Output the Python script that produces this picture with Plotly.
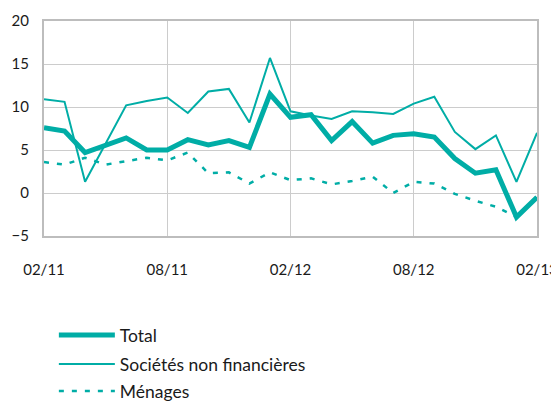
import plotly.graph_objects as go

months = ["02/11", "03/11", "04/11", "05/11", "06/11", "07/11", "08/11", "09/11", "10/11",
          "11/11", "12/11", "01/12", "02/12", "03/12", "04/12", "05/12", "06/12", "07/12",
          "08/12", "09/12", "10/12", "11/12", "12/12", "01/13", "02/13"]
tick_labels = ["02/11", "08/11", "02/12", "08/12", "02/13"]

total = [7.6, 7.2, 4.7, 5.5, 6.4, 5.0, 5.0, 6.2, 5.6, 6.1, 5.3, 11.5, 8.8, 9.1, 6.1, 8.3,
         5.8, 6.7, 6.9, 6.5, 4.0, 2.3, 2.7, -2.8, -0.5]
societes = [10.9, 10.6, 1.3, 5.8, 10.2, 10.7, 11.1, 9.3, 11.8, 12.1, 8.2, 15.7, 9.5, 9.0,
            8.6, 9.5, 9.4, 9.2, 10.4, 11.2, 7.1, 5.1, 6.7, 1.3, 7.0]
menages = [3.6, 3.3, 4.1, 3.3, 3.7, 4.1, 3.8, 4.7, 2.3, 2.4, 1.1, 2.4, 1.5, 1.7, 1.0, 1.4,
           1.9, 0.0, 1.3, 1.1, -0.1, -0.9, -1.6, -2.8, -0.5]

teal = "#00ADA6"
font = dict(family="Lato, 'Open Sans', sans-serif", size=15, color="#1a1a1a")
H = 393

fig = go.Figure()
fig.add_trace(go.Scatter(x=months, y=menages, name="Ménages", mode="lines", legend="legend3",
                         line=dict(color=teal, width=2.5, dash="5px,8px")))
fig.add_trace(go.Scatter(x=months, y=societes, name="Sociétés non financières", mode="lines",
                         legend="legend2", line=dict(color=teal, width=2)))
fig.add_trace(go.Scatter(x=months, y=total, name="Total", mode="lines", legend="legend",
                         line=dict(color=teal, width=5)))


def leg(center_px):
    return dict(x=0.02, y=1 - center_px / H, xref="paper", yref="container",
                xanchor="left", yanchor="middle", font=dict(size=17.5),
                itemwidth=56, bgcolor="rgba(0,0,0,0)")


fig.update_layout(
    width=551, height=H,
    margin=dict(l=36, r=22, t=13, b=H - 228, autoexpand=False),
    paper_bgcolor="white", plot_bgcolor="white",
    font=font,
    showlegend=True,
    legend=leg(327), legend2=leg(356), legend3=leg(383),
)
fig.update_xaxes(type="category", range=[0, 24], tickmode="array", tickvals=tick_labels,
                 ticktext=tick_labels, showgrid=True, gridcolor="#cccccc", gridwidth=1,
                 showline=True, mirror=True, linecolor="#bdbdbd", linewidth=2,
                 ticks="", ticklabelstandoff=19, tickfont=font, automargin=False)
fig.update_yaxes(range=[-5, 20], tickvals=[-5, 0, 5, 10, 15, 20], showgrid=True,
                 gridcolor="#cccccc", gridwidth=1, zeroline=False,
                 showline=True, mirror=True, linecolor="#bdbdbd", linewidth=2,
                 ticks="", ticklabelstandoff=10, tickfont=font, automargin=False)

fig.write_html("out.html")
